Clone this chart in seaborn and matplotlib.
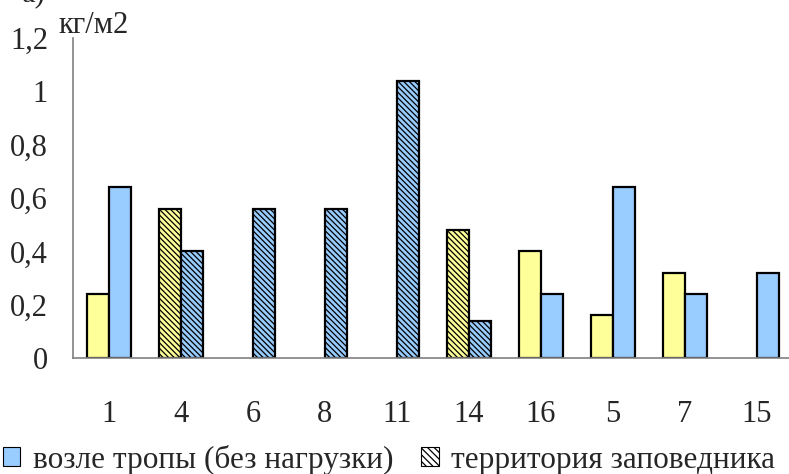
import matplotlib
matplotlib.use("Agg")
import matplotlib.pyplot as plt
import matplotlib.patches as mpatches
import pandas as pd
import seaborn as sns

# данные
categories = ["1", "4", "6", "8", "11", "14", "16", "5", "7", "15"]
yellow_vals = [0.24, 0.56, 0, 0, 0, 0.48, 0.40, 0.16, 0.32, 0]
blue_vals = [0.64, 0.40, 0.56, 0.56, 1.04, 0.14, 0.24, 0.64, 0.24, 0.32]
hatched_cats = ["4", "6", "8", "11", "14"]
y_ticks = [0, 0.2, 0.4, 0.6, 0.8, 1.0, 1.2]
y_labels = ["0", "0,2", "0,4", "0,6", "0,8", "1", "1,2"]
series_names = ["тропа", "возле тропы (без нагрузки)"]
legend_labels = ["возле тропы (без нагрузки)", "территория заповедника"]
unit_label = "кг/м2"

df = pd.DataFrame({
    "cat": categories * 2,
    "series": [series_names[0]] * len(categories) + [series_names[1]] * len(categories),
    "val": yellow_vals + blue_vals,
})

sns.set_style("white")
plt.rcParams["font.family"] = ["Liberation Serif", "DejaVu Serif"]
plt.rcParams["hatch.linewidth"] = 0.9

YELLOW = "#FFFF99"
BLUE = "#99CCFF"
GRAY = "#808080"

fig = plt.figure(figsize=(7.89, 4.74), dpi=100)
ax = fig.add_axes([73 / 789, 116 / 474, 720 / 789, 320 / 474])

sns.barplot(data=df, x="cat", y="val", hue="series", order=categories,
            hue_order=series_names, palette=[YELLOW, BLUE], width=0.6,
            edgecolor="black", linewidth=1.6, saturation=1, legend=False, ax=ax)

# штриховка для точек на территории заповедника, нулевые столбики прячем
for cont in ax.containers:
    for p in cont:
        idx = int(round(p.get_x() + p.get_width() / 2))
        if p.get_height() == 0:
            p.set_visible(False)
        if categories[idx] in hatched_cats:
            p.set_hatch("\\\\\\\\\\\\")

ax.set_xlim(-0.5, len(categories) - 0.5)
ax.set_ylim(0, 1.2)
ax.set_yticks(y_ticks)
ax.set_yticklabels(y_labels)
ax.set_xlabel("")
ax.set_ylabel("")

ax.set_xticks(range(len(categories)))
ax.set_xticklabels(categories)
ax.set_xticks([i - 0.5 for i in range(len(categories) + 1)], minor=True)
ax.tick_params(axis="x", which="major", length=0, pad=30, labelsize=22)
ax.tick_params(axis="x", which="minor", length=7, width=1.2, color=GRAY, direction="out")
ax.tick_params(axis="y", length=7, width=1.2, color=GRAY, direction="out", pad=11, labelsize=22)

sns.despine(ax=ax)
for s in ["left", "bottom"]:
    ax.spines[s].set_color(GRAY)
    ax.spines[s].set_linewidth(1.2)

fig.text(58 / 789, 1 - 33 / 474, unit_label, fontsize=22, va="baseline")
fig.text(22 / 789, 1 - 1 / 474, "а)", fontsize=22, va="baseline")

handles = [
    mpatches.Patch(facecolor=BLUE, edgecolor="black", linewidth=0.8),
    mpatches.Patch(facecolor="white", edgecolor="black", linewidth=0.8, hatch="\\\\\\\\\\"),
]
fig.legend(handles, legend_labels, loc="lower left", bbox_to_anchor=(0, -0.008),
           ncol=2, frameon=False, fontsize=22.5, handlelength=0.55, handleheight=0.55,
           handletextpad=0.4, columnspacing=0.9, borderpad=0.1, borderaxespad=0)

fig.savefig("out.png", dpi=100)
